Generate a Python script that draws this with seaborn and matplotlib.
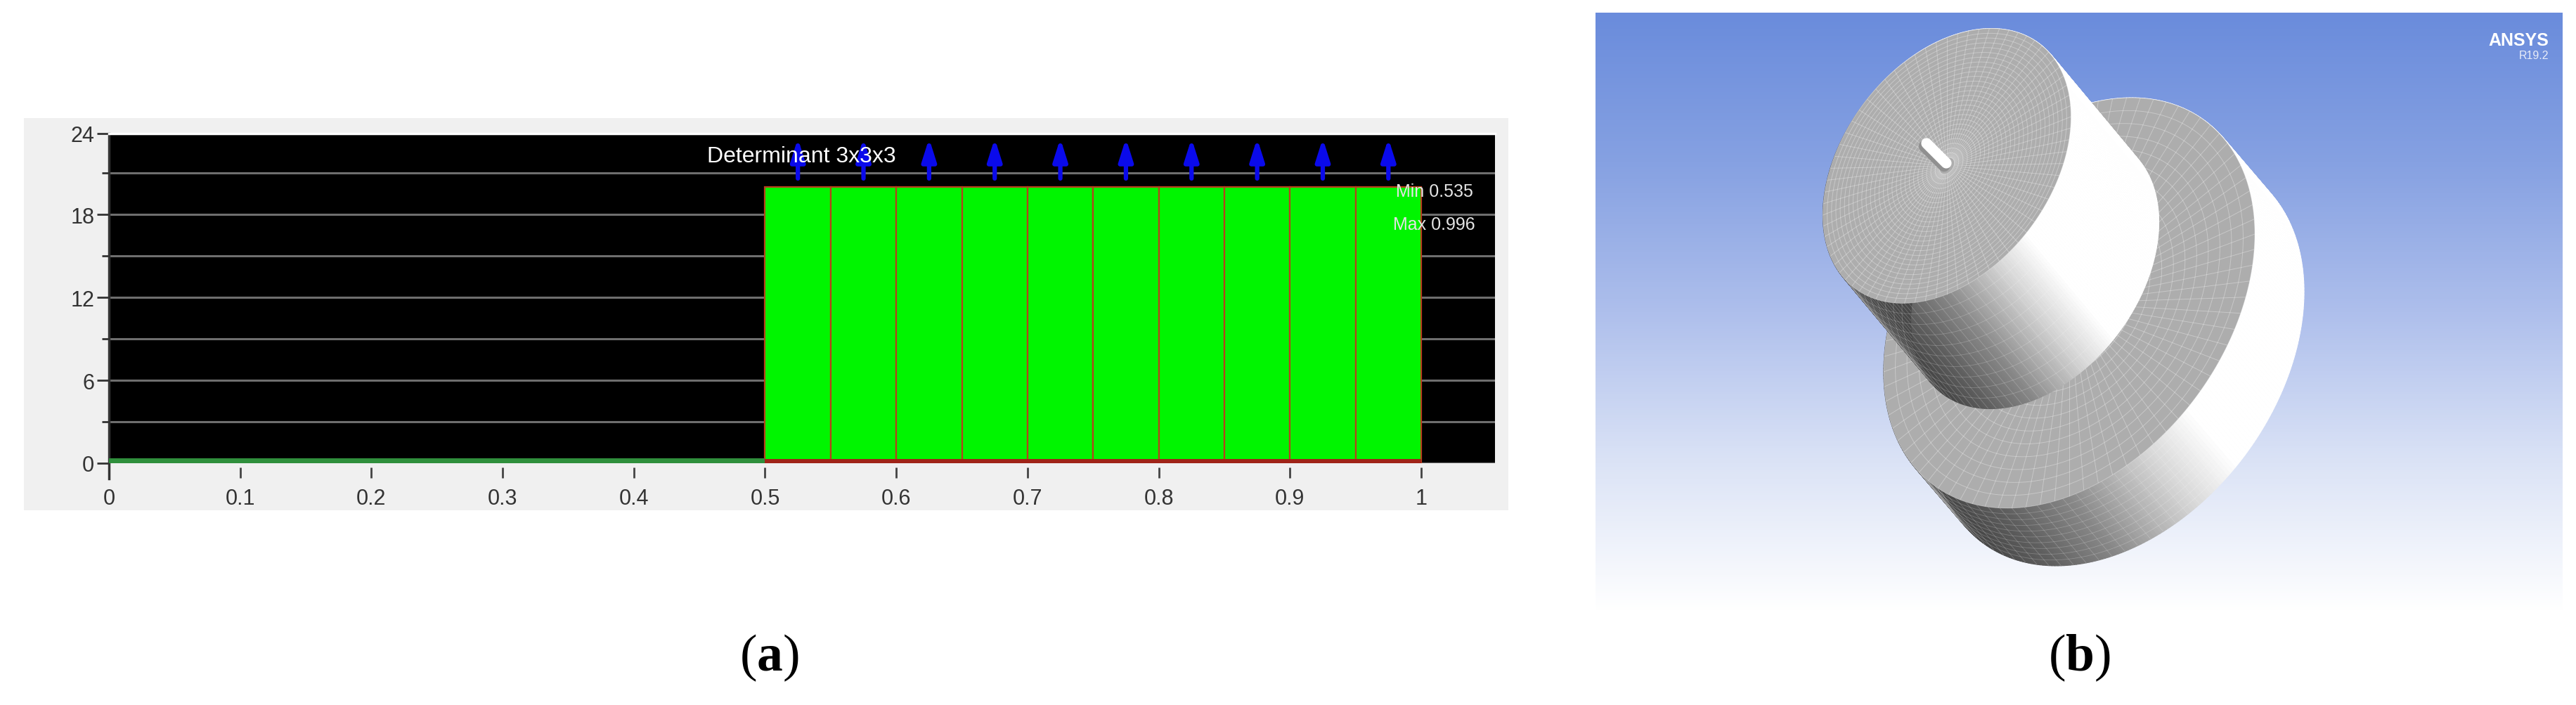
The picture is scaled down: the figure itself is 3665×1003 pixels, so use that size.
import numpy as np
import pandas as pd
import matplotlib
matplotlib.use("Agg")
import matplotlib.pyplot as plt
import seaborn as sns
from matplotlib.collections import LineCollection, PolyCollection
from matplotlib.colors import LinearSegmentedColormap
from matplotlib.patches import Rectangle

# histogram (a)
bin_edges = [0.5, 0.55, 0.6, 0.65, 0.7, 0.75, 0.8, 0.85, 0.9, 0.95, 1.0]
bin_centers = [0.525, 0.575, 0.625, 0.675, 0.725, 0.775, 0.825, 0.875, 0.925, 0.975]
bin_counts = [20, 20, 20, 20, 20, 20, 20, 20, 20, 20]
x_ticks = [0, 0.1, 0.2, 0.3, 0.4, 0.5, 0.6, 0.7, 0.8, 0.9, 1]
x_labels = ["0", "0.1", "0.2", "0.3", "0.4", "0.5", "0.6", "0.7", "0.8", "0.9", "1"]
y_ticks = [0, 6, 12, 18, 23.85]
y_labels = ["0", "6", "12", "18", "24"]
y_minor = [3, 9, 15, 21]

# mesh render (b), pixel geometry: centre, two axis vectors, extrusion
upper_disc = dict(c=(2770, 237), a=(176.5, -70), b=(0, 182.5), d=(125, 150), rings=28, spokes=72)
lower_disc = dict(c=(2944, 432), a=(264, -98), b=(0, 275), d=(70, 82), rings=16, spokes=80)
shade_angle = [0, 50, 65, 90, 110, 130, 200, 260, 360]
shade_gray = [255, 255, 215, 135, 95, 72, 72, 255, 255]
sky_colors = ["#6a8cdc", "#86a1e2", "#aebfec", "#dbe3f6", "#ffffff"]

sns.set_theme(style="white")
plt.rcParams["font.family"] = ["Liberation Sans", "DejaVu Sans"]
plt.rcParams["mathtext.fontset"] = "custom"
plt.rcParams["mathtext.bf"] = "Liberation Serif:bold"
plt.rcParams["mathtext.rm"] = "Liberation Serif"

W, H = 3666, 1004
fig = plt.figure(figsize=(W / 100, H / 100), dpi=100, facecolor="white")

# pixel-space layer for the backgrounds and the render
bg = fig.add_axes([0, 0, 1, 1], zorder=0)
bg.add_patch(Rectangle((34, 169), 2112, 558, color="#f0f0f0", lw=0))
sky = LinearSegmentedColormap.from_list("sky", sky_colors)
bg.imshow(np.linspace(0, 1, 256).reshape(-1, 1), cmap=sky, aspect="auto",
          extent=(2270, 3646, 872, 19), zorder=1)
bg.set_xlim(0, W)
bg.set_ylim(H, 0)
bg.axis("off")


def ellipse(disc, t, r=1.0, shift=0.0):
    cx = disc["c"][0] + r * (disc["a"][0] * np.cos(t) + disc["b"][0] * np.sin(t)) + shift * disc["d"][0]
    cy = disc["c"][1] + r * (disc["a"][1] * np.cos(t) + disc["b"][1] * np.sin(t)) + shift * disc["d"][1]
    return np.column_stack([cx, cy])


def draw_cylinder(disc, z):
    t = np.radians(np.arange(0, 361, 1.0))
    top = ellipse(disc, t)
    end = ellipse(disc, t, shift=1.0)
    quads = [[top[i], top[i + 1], end[i + 1], end[i]] for i in range(len(t) - 1)]
    grays = np.interp(np.degrees(t[:-1]), shade_angle, shade_gray) / 255
    cols = [(g, g, g) for g in grays]
    bg.add_collection(PolyCollection(quads, facecolors=cols, edgecolors=cols, linewidths=0.8, zorder=z))

    # side mesh
    vis = np.radians(np.arange(0, 200, 4.0))
    segs = [np.vstack([ellipse(disc, np.array([v])), ellipse(disc, np.array([v]), shift=1.0)]) for v in vis]
    arc = np.radians(np.arange(0, 200, 2.0))
    segs += [ellipse(disc, arc, shift=s) for s in np.arange(0.1, 1.0, 0.1)]
    bg.add_collection(LineCollection(segs, colors="white", linewidths=0.6, alpha=0.22, zorder=z + 0.1))

    # end face with the polar mesh
    bg.fill(top[:, 0], top[:, 1], color="#adadad", lw=0, zorder=z + 0.2)
    face = [ellipse(disc, t, r=r) for r in np.linspace(0.06, 1, disc["rings"])]
    for s in np.linspace(0, 2 * np.pi, disc["spokes"], endpoint=False):
        face.append(np.vstack([ellipse(disc, np.array([s]), r=0.06), ellipse(disc, np.array([s]))]))
    bg.add_collection(LineCollection(face, colors="white", linewidths=0.7, alpha=0.32, zorder=z + 0.3))


draw_cylinder(lower_disc, 2)
draw_cylinder(upper_disc, 3)

# shaft in the middle of the upper face
bg.plot([2738, 2766], [209, 237], color="#909090", lw=12, solid_capstyle="round", zorder=4)
bg.plot([2741, 2769], [205, 233], color="white", lw=11, solid_capstyle="round", zorder=4.1)

bg.text(3626, 58, "ANSYS", color="white", fontsize=18, weight="bold", ha="right", va="center", zorder=5)
bg.text(3626, 80, "R19.2", color="#e8ecf8", fontsize=11.5, ha="right", va="center", zorder=5)
bg.text(1094, 936, r"($\mathbf{a}$)", color="black", fontsize=53, family="Liberation Serif",
        ha="center", va="center", zorder=5)
bg.text(2958, 936, r"($\mathbf{b}$)", color="black", fontsize=53, family="Liberation Serif",
        ha="center", va="center", zorder=5)

# histogram axes
left, right, top, bottom = 155, 2127, 191, 660
ax = fig.add_axes([left / W, 1 - bottom / H, (right - left) / W, (bottom - top) / H], zorder=2)
ax.set_facecolor("black")
ax.patch.set_alpha(1)

bars = pd.DataFrame({"center": bin_centers, "count": bin_counts})
sns.histplot(data=bars, x="center", weights="count", bins=bin_edges, ax=ax, color="#00f500",
             edgecolor="#b8401c", linewidth=1.6, alpha=1, zorder=3)
sns.histplot(x=[0.25], weights=[0.35], bins=[0, 0.5], ax=ax, color="#2f8f3c", linewidth=0, alpha=1, zorder=3)
sns.histplot(x=[0.75], weights=[0.3], bins=[0.5, 1.0], ax=ax, color="#a02418", linewidth=0, alpha=1, zorder=4)

ax.set_xlim(0, (right - left) / 1867)
ax.set_ylim(0, y_ticks[-1])
ax.set_xlabel("")
ax.set_ylabel("")
ax.set_xticks(x_ticks, x_labels)
ax.set_yticks(y_ticks, y_labels)
ax.set_yticks(y_minor, minor=True)
ax.set_axisbelow(True)
ax.grid(True, axis="y", which="both", color="#6e6e6e", lw=2.2, zorder=1)
ax.grid(False, axis="x", which="both")
ax.tick_params(axis="x", length=11, width=2, color="#444444", labelsize=22, pad=10, labelcolor="#333333", bottom=True)
ax.tick_params(axis="y", which="major", length=12, width=2, color="#333333", labelsize=22, pad=3,
               labelcolor="#333333", left=True)
ax.tick_params(axis="y", which="minor", length=7, width=2, color="#333333", left=True)

ax.spines["right"].set_visible(False)
ax.spines["top"].set_color("white")
ax.spines["top"].set_linewidth(2.5)
ax.spines["bottom"].set_position(("outward", 4.3))
ax.spines["bottom"].set_visible(False)
ax.spines["left"].set_color("#333333")
ax.spines["left"].set_linewidth(2.5)
ax.spines["left"].set_bounds(-1.1, y_ticks[-1])

for c in bin_centers:
    ax.annotate("", xy=(c, 23.5), xytext=(c, 20.6), zorder=5,
                arrowprops=dict(arrowstyle="-|>,head_length=0.95,head_width=0.3", color="#0a0aeb", lw=4.5,
                                shrinkA=0, shrinkB=0, mutation_scale=20))

ax.text(0.5276, 22.2, "Determinant 3x3x3", color="white", fontsize=23, ha="center", va="center", zorder=6)
ax.text(1.010, 19.67, "Min 0.535", color="#e4e4e4", fontsize=18, ha="center", va="center", zorder=6)
ax.text(1.010, 17.3, "Max 0.996", color="#e4e4e4", fontsize=18, ha="center", va="center", zorder=6)

fig.savefig("out.png", dpi=100, facecolor="white")
